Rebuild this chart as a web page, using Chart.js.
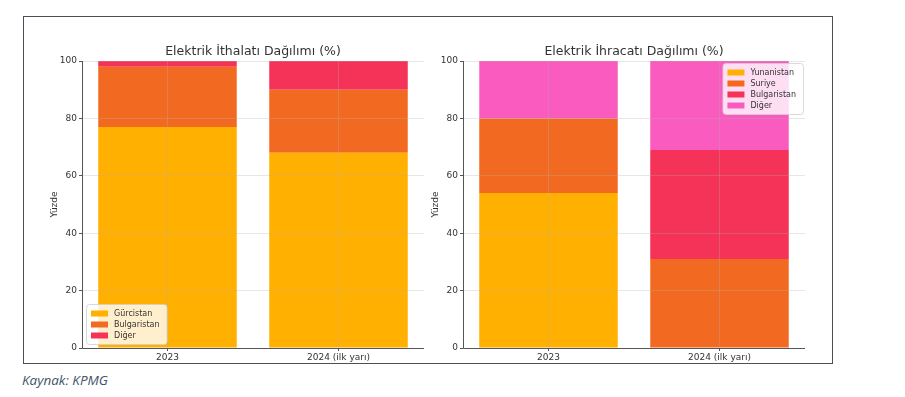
<!DOCTYPE html>
<html><head><meta charset="utf-8">
<script src="https://cdn.jsdelivr.net/npm/chart.js@4.4.1/dist/chart.umd.min.js"></script>
<style>
html,body{margin:0;padding:0;background:#fff;width:905px;height:397px;overflow:hidden;}
#frame{position:absolute;left:23px;top:16px;width:808px;height:346px;border:1px solid #4a5058;background:#fff;}
#c1{position:absolute;left:24px;top:17px;}
#c2{position:absolute;left:405px;top:17px;}
#src{position:absolute;left:22px;top:371px;font-family:'Open Sans',sans-serif;font-style:italic;font-size:13.5px;color:#44546a;}
</style></head><body>
<div id="frame"></div>
<canvas id="c1" width="416" height="346" style="width:416px;height:346px"></canvas>
<canvas id="c2" width="427" height="346" style="width:427px;height:346px"></canvas>
<div id="src">Kaynak: KPMG</div>
<script>
const categories = ['2023', '2024 (ilk yarı)'];
const yTicks = [0, 20, 40, 60, 80, 100];

const importTitle = 'Elektrik İthalatı Dağılımı (%)';
const importLabels = ['Gürcistan', 'Bulgaristan', 'Diğer'];
const importGurcistan = [77, 68];
const importBulgaristan = [21, 22];
const importDiger = [2, 10];

const exportTitle = 'Elektrik İhracatı Dağılımı (%)';
const exportLabels = ['Yunanistan', 'Suriye', 'Bulgaristan', 'Diğer'];
const exportYunanistan = [54, 0];
const exportSuriye = [26, 31];
const exportBulgaristan = [0, 38];
const exportDiger = [20, 31];

const colors = {yellow:'#ffb000', orange:'#f26a21', red:'#f53258', pink:'#f95bbf'};
const FONT = "'DejaVu Sans', sans-serif";

const areaTitle = {
  id:'areaTitle',
  afterDraw(chart, args, opts){
    const ctx = chart.ctx, a = chart.chartArea;
    ctx.save();
    ctx.font = '12.5px ' + FONT;
    ctx.fillStyle = '#333';
    ctx.textAlign = 'center';
    ctx.textBaseline = 'middle';
    ctx.fillText(opts.text, (a.left + a.right) / 2, a.top - 9);
    // axis spines (left and bottom)
    ctx.strokeStyle = '#555';
    ctx.lineWidth = 1;
    ctx.beginPath();
    ctx.moveTo(a.left + 0.5, a.top);
    ctx.lineTo(a.left + 0.5, a.bottom + 0.5);
    ctx.lineTo(a.right, a.bottom + 0.5);
    ctx.stroke();
    ctx.restore();
  }
};

const boxLegend = {
  id:'boxLegend',
  afterDraw(chart, args, opts){
    const ctx = chart.ctx, a = chart.chartArea;
    const ds = chart.data.datasets;
    const lh = 11, pad = 5, sw = 17, sh = 6;
    ctx.save();
    ctx.font = '8px ' + FONT;
    let tw = 0;
    ds.forEach(d => tw = Math.max(tw, ctx.measureText(d.label).width));
    const w = pad + sw + 6 + tw + pad + 2;
    const h = pad + ds.length * lh + pad - 3;
    let x, y;
    if (opts.pos === 'bl') { x = a.left + 4; y = a.bottom - 4 - h; }
    else { x = a.right - 2 - w; y = a.top + 2; }
    ctx.globalAlpha = 0.8;
    ctx.fillStyle = '#ffffff';
    ctx.strokeStyle = '#d0d0d0';
    ctx.lineWidth = 1;
    ctx.beginPath();
    ctx.roundRect(x + 0.5, y + 0.5, w, h, 3);
    ctx.fill(); ctx.stroke();
    ctx.globalAlpha = 1;
    ds.forEach((d, i) => {
      const cy = y + pad + i * lh + lh / 2 - 1;
      ctx.fillStyle = d.backgroundColor;
      ctx.fillRect(x + pad, cy - sh / 2, sw, sh);
      ctx.fillStyle = '#333';
      ctx.textBaseline = 'middle';
      ctx.fillText(d.label, x + pad + sw + 6, cy + 0.5);
    });
    ctx.restore();
  }
};

function makeChart(id, title, labels, series, cols, legendPos, padRight){
  return new Chart(document.getElementById(id), {
    type:'bar',
    data:{
      labels: categories,
      datasets: labels.map((l, i) => ({
        label: l, data: series[i], backgroundColor: cols[i],
        barPercentage: 0.81, categoryPercentage: 1.0, borderWidth: 0
      }))
    },
    plugins:[areaTitle, boxLegend],
    options:{
      responsive:false, animation:false,
      layout:{padding:{left:0, right:padRight, top:44, bottom:0}},
      plugins:{
        legend:{display:false},
        tooltip:{enabled:false},
        title:{display:false},
        areaTitle:{text:title},
        boxLegend:{pos:legendPos}
      },
      scales:{
        x:{
          stacked:true,
          grid:{z:1, offset:false, color:'rgba(176,176,176,0.3)', tickLength:3, tickColor:'#555'},
          border:{display:false},
          ticks:{z:1, color:'#333', font:{family:FONT, size:9}, padding:1, maxRotation:0},
          afterFit(s){ s.height = 15; }
        },
        y:{
          stacked:true, min:0, max:100,
          afterBuildTicks(s){ s.ticks = yTicks.map(v => ({value:v})); },
          grid:{z:1, color:'rgba(176,176,176,0.3)', tickLength:3, tickColor:'#555'},
          border:{display:false},
          ticks:{z:1, color:'#333', font:{family:FONT, size:9}, padding:2},
          title:{display:true, text:'Yüzde', color:'#333', font:{family:FONT, size:9}, padding:{top:25, bottom:4}},
          afterFit(s){ s.width = 58; }
        }
      }
    }
  });
}

makeChart('c1', importTitle, importLabels,
  [importGurcistan, importBulgaristan, importDiger],
  [colors.yellow, colors.orange, colors.red], 'bl', 16);
makeChart('c2', exportTitle, exportLabels,
  [exportYunanistan, exportSuriye, exportBulgaristan, exportDiger],
  [colors.yellow, colors.orange, colors.red, colors.pink], 'tr', 27);
</script>
</body></html>
